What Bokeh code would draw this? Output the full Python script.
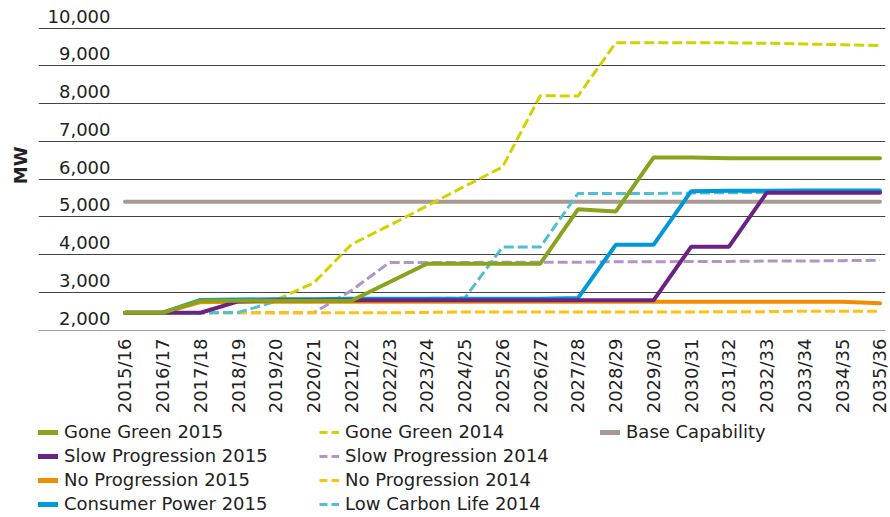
import math
from bokeh.plotting import figure
from bokeh.layouts import column
from bokeh.models import Range1d, FixedTicker, Legend, LegendItem, Title
from bokeh.core.properties import value
from bokeh.embed import file_html
from bokeh.resources import INLINE

# ---- data ----
years = ["2015/16", "2016/17", "2017/18", "2018/19", "2019/20", "2020/21", "2021/22",
         "2022/23", "2023/24", "2024/25", "2025/26", "2026/27", "2027/28", "2028/29",
         "2029/30", "2030/31", "2031/32", "2032/33", "2033/34", "2034/35", "2035/36"]

base_capability = [5400] * 21
gone_green_2015 = [2460, 2460, 2780, 2780, 2780, 2780, 2780, 3270, 3760, 3760, 3760,
                   3760, 5200, 5140, 6570, 6570, 6550, 6550, 6550, 6550, 6550]
gone_green_2014 = [2460, 2460, 2770, 2770, 2800, 3250, 4270, 4770, 5290, 5810, 6320,
                   8210, 8200, 9610, 9610, 9610, 9610, 9600, 9580, 9560, 9540]
slow_prog_2015 = [2460, 2460, 2460, 2760, 2790, 2790, 2790, 2790, 2790, 2790, 2790,
                  2790, 2790, 2790, 2790, 4210, 4210, 5640, 5640, 5640, 5640]
slow_prog_2014 = [2460, 2460, 2460, 2460, 2460, 2460, 3050, 3790, 3790, 3790, 3800,
                  3800, 3800, 3810, 3810, 3820, 3820, 3830, 3830, 3840, 3850]
no_prog_2015 = [2460, 2460, 2740, 2750, 2750, 2750, 2750, 2750, 2750, 2750, 2750,
                2750, 2750, 2750, 2750, 2750, 2750, 2750, 2750, 2750, 2710]
no_prog_2014 = [2460, 2460, 2460, 2460, 2460, 2460, 2460, 2460, 2470, 2480, 2480,
                2480, 2480, 2480, 2480, 2480, 2490, 2490, 2500, 2500, 2500]
consumer_power_2015 = [2460, 2460, 2800, 2810, 2820, 2820, 2830, 2830, 2830, 2830, 2830,
                       2830, 2850, 4260, 4260, 5680, 5690, 5690, 5700, 5700, 5700]
low_carbon_2014 = [2460, 2460, 2460, 2470, 2760, 2780, 2800, 2820, 2840, 2850, 4200,
                   4200, 5620, 5620, 5620, 5630, 5640, 5650, 5660, 5680, 5690]

y_ticks = [2000, 3000, 4000, 5000, 6000, 7000, 8000, 9000, 10000]
y_tick_labels = ["2,000", "3,000", "4,000", "5,000", "6,000", "7,000", "8,000", "9,000", "10,000"]

series = [
    # (label, values, color, dashed)
    ("Base Capability", base_capability, "#A89A92", False),
    ("Gone Green 2014", gone_green_2014, "#D4D100", True),
    ("Slow Progression 2014", slow_prog_2014, "#B195C9", True),
    ("No Progression 2014", no_prog_2014, "#FFC20E", True),
    ("Low Carbon Life 2014", low_carbon_2014, "#52BED2", True),
    ("No Progression 2015", no_prog_2015, "#F28C00", False),
    ("Consumer Power 2015", consumer_power_2015, "#0098D6", False),
    ("Slow Progression 2015", slow_prog_2015, "#6B2383", False),
    ("Gone Green 2015", gone_green_2015, "#88A31C", False),
]
legend_order = ["Gone Green 2015", "Slow Progression 2015", "No Progression 2015",
                "Consumer Power 2015", "Gone Green 2014", "Slow Progression 2014",
                "No Progression 2014", "Low Carbon Life 2014", "Base Capability"]

xs = list(range(len(years)))
FONT = "DejaVu Sans"
TXT = "#222222"

# ---------------- main chart ----------------
p = figure(frame_width=847, frame_height=330,
           output_backend="svg", toolbar_location=None,
           x_range=Range1d(-2.291, 20.146), y_range=Range1d(1990, 10732),
           min_border_left=36, min_border_right=7, min_border_top=0, min_border_bottom=0)
p.outline_line_color = None
p.background_fill_color = "white"

p.yaxis.visible = False
p.xgrid.visible = False
p.ygrid.ticker = FixedTicker(ticks=y_ticks)
p.ygrid.grid_line_color = "#444444"
p.ygrid.grid_line_width = 1

xa = p.xaxis[0]
xa.ticker = FixedTicker(ticks=xs)
xa.major_label_overrides = {i: y for i, y in enumerate(years)}
xa.major_label_orientation = math.pi / 2
xa.axis_line_color = None
xa.major_tick_line_color = None
xa.minor_tick_line_color = None
xa.major_tick_in = 0
xa.major_tick_out = 0
xa.major_label_standoff = 8
xa.major_label_text_font = FONT
xa.major_label_text_font_size = "18px"
xa.major_label_text_color = TXT

# y tick labels sit just above their gridlines
p.text(x=[-0.384] * len(y_ticks), y=y_ticks, text=y_tick_labels,
       text_align="right", text_baseline="middle", y_offset=-12,
       text_font=value(FONT), text_font_size="18px", text_color=TXT)

p.add_layout(Title(text="MW", align="right", offset=146, standoff=15,
                   text_font=FONT, text_font_size="18px", text_font_style="bold",
                   text_color=TXT), "left")

for label, vals, color, dashed in series:
    if dashed:
        p.line(xs, vals, line_color=color, line_width=3, line_dash="10 4")
    else:
        p.line(xs, vals, line_color=color, line_width=4, line_cap="round")

# ---------------- legend strip ----------------
# same series drawn again, outside this strip's visible range: only the legend shows
lg = figure(width=890, height=105, output_backend="svg", toolbar_location=None,
            x_axis_location=None, y_axis_location=None,
            x_range=Range1d(100, 101), y_range=Range1d(0, 1),
            min_border_left=37, min_border_right=0, min_border_top=5, min_border_bottom=0)
lg.outline_line_color = None
lg.xgrid.visible = False
lg.ygrid.visible = False

renderers = {}
for label, vals, color, dashed in series:
    if dashed:
        renderers[label] = lg.line(xs, vals, line_color=color, line_width=3, line_dash="8 4")
    else:
        renderers[label] = lg.line(xs, vals, line_color=color, line_width=5, line_cap="round")

items = [LegendItem(label=name, renderers=[renderers[name]]) for name in legend_order]
legend = Legend(items=items, orientation="vertical", nrows=4,
                location="top_left", margin=0, padding=1,
                glyph_width=20, glyph_height=20, label_standoff=6, spacing=3,
                label_width=252, label_height=20,
                label_text_font=FONT, label_text_font_size="18px", label_text_color=TXT,
                border_line_color=None, background_fill_alpha=0)
lg.add_layout(legend, "center")

layout = column(p, lg, spacing=0)
open("out.html", "w").write(file_html(layout, INLINE))
